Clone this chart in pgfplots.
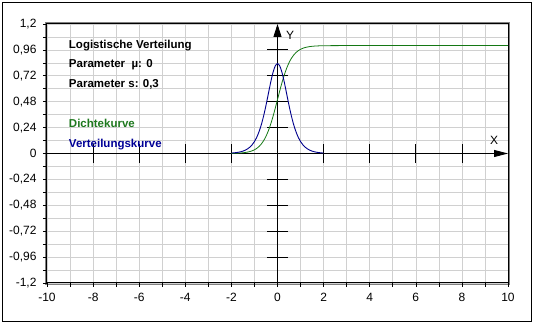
\documentclass[border=0pt]{standalone}
\usepackage{pgfplots}
\pgfplotsset{compat=1.18}
\usepackage{pgfplotstable}
\usepackage{fontspec}
\setmainfont{Liberation Sans}
\usetikzlibrary{arrows.meta}
\definecolor{gridgray}{RGB}{208,208,208}
\definecolor{cdfgreen}{RGB}{20,120,20}
\definecolor{pdfblue}{RGB}{0,0,140}
\definecolor{txtgreen}{RGB}{30,120,30}
\definecolor{txtblue}{RGB}{0,0,150}

\pgfplotstableread{
x f F
-2.0 0.00424 0.00127
-1.9 0.00591 0.00177
-1.8 0.00824 0.00247
-1.7 0.01146 0.00345
-1.6 0.0160 0.00480
-1.5 0.0222 0.00669
-1.4 0.0308 0.00932
-1.3 0.0428 0.0130
-1.2 0.0589 0.0180
-1.1 0.0809 0.0249
-1.0 0.1107 0.0344
-0.9 0.1505 0.0474
-0.8 0.2026 0.0650
-0.7 0.2686 0.0884
-0.6 0.3500 0.1192
-0.5 0.4455 0.1589
-0.4 0.5503 0.2086
-0.3 0.6554 0.2689
-0.2 0.7471 0.3392
-0.1 0.8106 0.4174
0.0 0.8333 0.5000
0.1 0.8106 0.5826
0.2 0.7471 0.6608
0.3 0.6554 0.7311
0.4 0.5503 0.7914
0.5 0.4455 0.8411
0.6 0.3500 0.8808
0.7 0.2686 0.9116
0.8 0.2026 0.9350
0.9 0.1505 0.9526
1.0 0.1107 0.9656
1.1 0.0809 0.9751
1.2 0.0589 0.9820
1.3 0.0428 0.9870
1.4 0.0308 0.99068
1.5 0.0222 0.99331
1.6 0.0160 0.99520
1.7 0.01146 0.99655
1.8 0.00824 0.99753
1.9 0.00591 0.99823
2.0 0.00424 0.99873
}\logdata

\pgfplotstableread{
x F
2.0 0.99873
2.5 0.99976
3.0 0.99995
4.0 1.0
10.0 1.0
}\cdftail

\begin{document}
\begin{tikzpicture}
\useasboundingbox (-47pt,-41pt) rectangle (486pt,283pt);
\draw[black, line width=0.8pt] (-45pt,-38pt) rectangle (484pt,281pt);
\draw[gray, line width=0.8pt] (-1.6pt,-1.6pt) rectangle (462.6pt,260.6pt);
\begin{axis}[
  at={(0pt,0pt)}, anchor=south west,
  scale only axis, width=461pt, height=259pt,
  xmin=-10, xmax=10, ymin=-1.2, ymax=1.2,
  xtick={-10,-8,-6,-4,-2,0,2,4,6,8,10},
  xticklabels={-10,-8,-6,-4,-2,0,2,4,6,8,10},
  minor xtick={-9,-7,-5,-3,-1,1,3,5,7,9},
  ytick={-1.2,-0.96,-0.72,-0.48,-0.24,0,0.24,0.48,0.72,0.96,1.2},
  yticklabels={{-1,2},{-0,96},{-0,72},{-0,48},{-0,24},{0},{0,24},{0,48},{0,72},{0,96},{1,2}},
  minor ytick={-1.08,-0.84,-0.6,-0.36,-0.12,0.12,0.36,0.6,0.84,1.08},
  grid=both,
  major grid style={gridgray, line width=0.6pt},
  minor grid style={gridgray, line width=0.6pt},
  tick align=outside, tick pos=left,
  major tick length=4pt, minor tick length=4pt,
  tick style={black, line width=0.6pt},
  axis line style={black, line width=1pt},
  ticklabel style={font=\fontsize{12}{13}\selectfont},
  xticklabel style={yshift=-3pt},
  yticklabel style={xshift=-3pt},
  clip=false,
]
% central axes
\draw[black, line width=0.9pt, -{Triangle[length=14pt,width=7pt]}] (axis cs:-10,0) -- (axis cs:10,0);
\draw[black, line width=0.9pt, -{Triangle[length=13pt,width=8pt]}] (axis cs:0,-1.2) -- (axis cs:0,1.2);
\pgfplotsinvokeforeach{-8,-6,-4,-2,2,4,6,8}{
  \draw[black, line width=0.8pt] (axis cs:#1,-0.09) -- (axis cs:#1,0.09);
}
\pgfplotsinvokeforeach{-0.96,-0.72,-0.48,-0.24,0.24,0.48,0.72,0.96}{
  \draw[black, line width=0.8pt] (axis cs:-0.45,#1) -- (axis cs:0.45,#1);
}
\node[font=\fontsize{12}{13}\selectfont, anchor=center] at (axis cs:9.4,0.12) {X};
\node[font=\fontsize{12}{13}\selectfont, anchor=center] at (axis cs:0.55,1.09) {Y};
% curves
\addplot[cdfgreen, line width=0.8pt, smooth] table[x=x, y=F] {\logdata};
\addplot[cdfgreen, line width=0.8pt] table[x=x, y=F] {\cdftail};
\addplot[pdfblue, line width=0.9pt, smooth] table[x=x, y=f] {\logdata};
% text
\node[font=\fontsize{11.5}{12}\selectfont\bfseries, anchor=base west] at (axis cs:-9.2,0.976) {Logistische Verteilung};
\node[font=\fontsize{11.5}{12}\selectfont\bfseries, anchor=base west] at (axis cs:-9.2,0.797) {Parameter\ \ µ: 0};
\node[font=\fontsize{11.5}{12}\selectfont\bfseries, anchor=base west] at (axis cs:-9.2,0.612) {Parameter s: 0,3};
\node[font=\fontsize{11.5}{12}\selectfont\bfseries, anchor=base west, text=txtgreen] at (axis cs:-9.2,0.241) {Dichtekurve};
\node[font=\fontsize{11.5}{12}\selectfont\bfseries, anchor=base west, text=txtblue] at (axis cs:-9.2,0.056) {Verteilungskurve};
\end{axis}
\end{tikzpicture}
\end{document}
